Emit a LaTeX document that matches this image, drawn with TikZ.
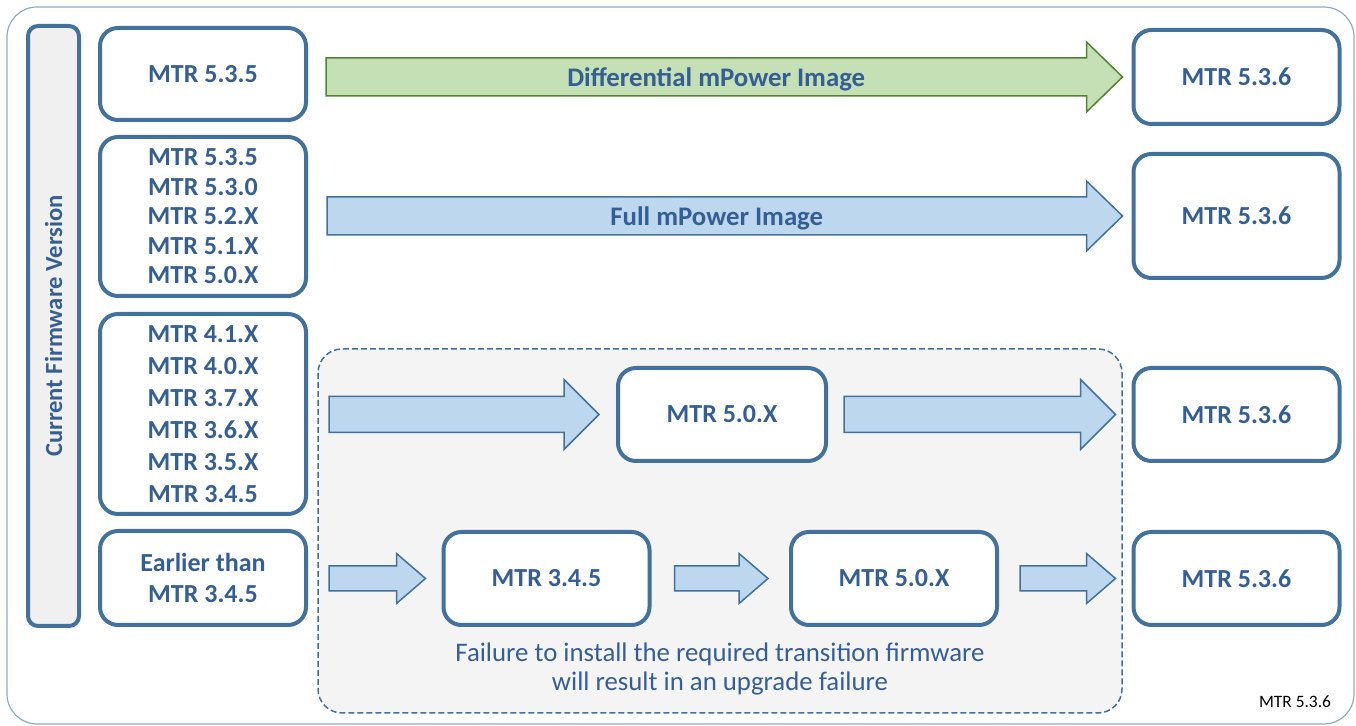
\documentclass[tikz,border=0pt]{standalone}
\usepackage{fontspec}
\setmainfont{Carlito}
\usetikzlibrary{calc}
\definecolor{mtrblue}{RGB}{65,113,156}
\definecolor{mtrtext}{RGB}{52,94,148}
\definecolor{framecol}{RGB}{143,170,200}
\definecolor{arrowfill}{RGB}{189,215,238}
\definecolor{greenfill}{RGB}{197,224,180}
\definecolor{greenline}{RGB}{84,130,53}
\definecolor{transfill}{RGB}{244,244,244}
\tikzset{
	verbox/.style={draw=mtrblue, line width=2pt, fill=white, rounded corners=9pt,
		text=mtrtext, align=center, font=\bfseries\fontsize{13}{15}\selectfont,
		minimum width=103pt, minimum height=46.5pt, inner sep=0pt},
	fwlabel/.style={draw=mtrblue, line width=2pt, fill=black!6, rounded corners=5pt,
		text=mtrtext, font=\bfseries\fontsize{12.3}{14}\selectfont,
		rotate=90, minimum width=300pt, minimum height=25.5pt, inner sep=0pt},
	bluearrow/.style={draw=mtrblue, line width=0.75pt, fill=arrowfill},
	greenarrow/.style={draw=greenline, line width=0.75pt, fill=greenfill},
	arrowtext/.style={text=mtrtext, font=\bfseries\fontsize{13.4}{15}\selectfont},
	failtext/.style={text=mtrtext, align=center, font=\fontsize{13.4}{14.5}\selectfont}
}
% style, start, tip, body half, head half, head length, text
\newcommand{\blockarrow}[7]{%
	\draw[#1] let \p1=#2, \p2=#3 in
		({\x1},{\y2+#4}) -- ({\x2-#6},{\y2+#4}) -- ({\x2-#6},{\y2+#5}) -- (\p2)
		-- ({\x2-#6},{\y2-#5}) -- ({\x2-#6},{\y2-#4}) -- ({\x1},{\y2-#4}) -- cycle
		({(\x1+\x2)/2-4pt},{\y2-1pt}) node[arrowtext] {#7};}

\begin{document}
\begin{tikzpicture}[x=0.5pt, y=-0.5pt]
	\useasboundingbox (0,0) rectangle (1356,726);
	\draw[framecol, line width=0.6pt, rounded corners=15pt] (7,7) rectangle (1354,724);
	% transition area
	\draw[mtrblue, fill=transfill, line width=0.75pt, dash pattern=on 3pt off 1.5pt,
		rounded corners=12pt] (318,349) rectangle (1122,713);

	\node[fwlabel] (fw) at (53.5,326) {Current Firmware Version};

	% current versions
	\node[verbox, minimum height=46pt] (cur1) at (203,74) {MTR 5.3.5};
	\node[verbox, minimum height=79.5pt, font=\bfseries\fontsize{13}{14.75}\selectfont] (cur2) at (203,216.5)
		{MTR 5.3.5\\MTR 5.3.0\\MTR 5.2.X\\MTR 5.1.X\\MTR 5.0.X};
	\node[verbox, minimum height=100pt, font=\bfseries\fontsize{13}{16}\selectfont] (cur3) at (203,414)
		{MTR 4.1.X\\MTR 4.0.X\\MTR 3.7.X\\MTR 3.6.X\\MTR 3.5.X\\MTR 3.4.5};
	\node[verbox, minimum height=47pt, font=\bfseries\fontsize{13}{15.5}\selectfont] (cur4) at (203,578)
		{Earlier than\\MTR 3.4.5};

	% transition versions
	\node[verbox, minimum width=104pt] (v50a) at (722,414.5) {MTR 5.0.X};
	\node[verbox] (v345) at (546.5,578.5) {MTR 3.4.5};
	\node[verbox] (v50b) at (894,578.5) {MTR 5.0.X};

	% target versions
	\node[verbox, minimum height=47pt] (new1) at (1236.5,77) {MTR 5.3.6};
	\node[verbox, minimum height=62pt] (new2) at (1236.5,216) {MTR 5.3.6};
	\node[verbox] (new3) at (1236.5,414.5) {MTR 5.3.6};
	\node[verbox] (new4) at (1236.5,578.5) {MTR 5.3.6};

	% upgrade paths
	\blockarrow{greenarrow}{($(cur1.east)+(18,0)$)}{($(new1.west)+(-9,0)$)}{9.5pt}{17.5pt}{18pt}{Differential mPower Image}
	\blockarrow{bluearrow}{($(cur2.east)+(19,0)$)}{($(new2.west)+(-9,0)$)}{9.5pt}{17.5pt}{18pt}{Full mPower Image}
	\blockarrow{bluearrow}{($(cur3.east)+(21,0)$)}{($(v50a.west)+(-17,0)$)}{9pt}{17.5pt}{17.5pt}{}
	\blockarrow{bluearrow}{($(v50a.east)+(16,0)$)}{($(new3.west)+(-16,0)$)}{9pt}{17.5pt}{17.5pt}{}
	\blockarrow{bluearrow}{($(cur4.east)+(21,0)$)}{($(v345.west)+(-16,0)$)}{6.25pt}{12.5pt}{14.5pt}{}
	\blockarrow{bluearrow}{($(v345.east)+(23,0)$)}{($(v50b.west)+(-21,0)$)}{6.25pt}{12.5pt}{14.5pt}{}
	\blockarrow{bluearrow}{($(v50b.east)+(21,0)$)}{($(new4.west)+(-16,0)$)}{6.25pt}{12.5pt}{14.5pt}{}

	\node[failtext] (failnote) at (720,669)
		{Failure to install the required transition firmware\\will result in an upgrade failure};
	\node[font=\fontsize{8.7}{10}\selectfont] (vernote) at (1295,702) {MTR 5.3.6};
\end{tikzpicture}
\end{document}
